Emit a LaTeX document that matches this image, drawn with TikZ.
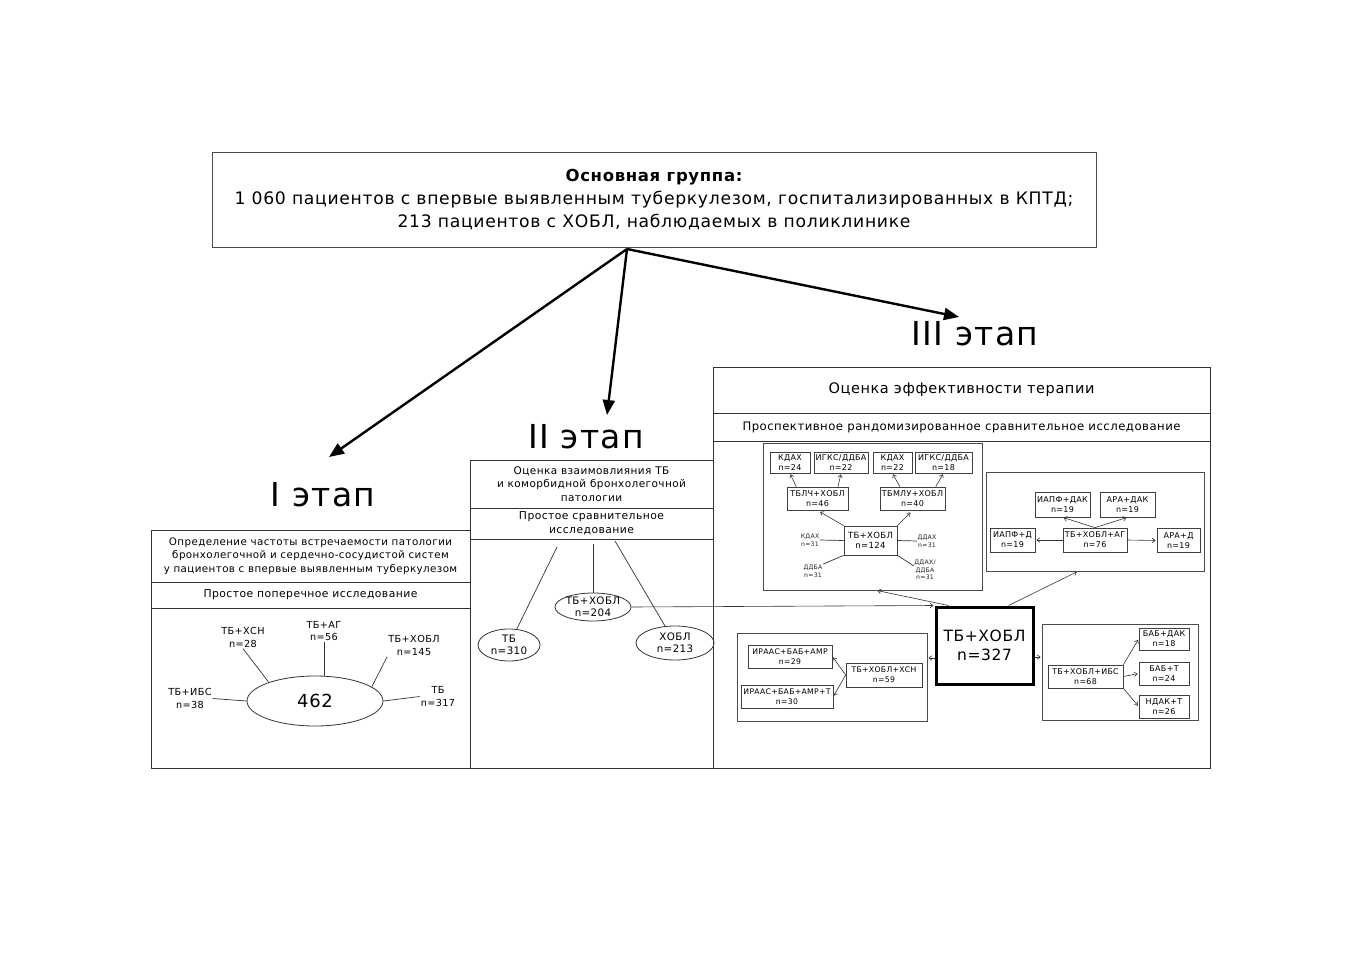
\documentclass[tikz,border=0pt]{standalone}
\usepackage{fontspec}
\setmainfont{DejaVu Sans}[LetterSpace=4]
\usetikzlibrary{arrows.meta,shapes.geometric,calc}
\newcommand\fsz[2]{\fontsize{#1}{#2}\selectfont}
\begin{document}
\begin{tikzpicture}[x=1pt,y=-1pt,
  bx/.style={draw=black!80, line width=0.8pt, rectangle, inner sep=1pt, align=center},
  sbx/.style={draw=black!75, line width=0.7pt, rectangle, inner sep=0.5pt, align=center, font=\fsz{8}{10}},
  sub/.style={draw=black!70, line width=0.8pt, rectangle, inner sep=0pt},
  lbl/.style={align=center, inner sep=1pt, font=\fsz{9.7}{12.5}},
  side/.style={align=center, inner sep=0.5pt, text=black!85, font=\fsz{6.2}{7.7}},
  ell/.style={draw=black!80, line width=0.8pt, ellipse, inner sep=0pt},
  ln/.style={draw=black!80, line width=0.7pt},
  sarr/.style={draw=black!80, line width=0.6pt, -{Straight Barb[length=3pt,width=4.5pt]}, shorten >=1pt},
  big/.style={draw=black, line width=2.4pt, -{Triangle[length=15pt,width=12pt]}},
  stage/.style={font=\fsz{33}{36}, inner sep=0pt}
]
\fill[white] (0,0) rectangle (1357,960);
\useasboundingbox (0,0) rectangle (1357,960);

% ---------- top box ----------
\node[draw=black!70, line width=1pt, minimum width=884pt, minimum height=94pt, align=center, font=\fsz{17.2}{23}] (top) at (654,200)
 {{\bfseries\fsz{16.5}{23}Основная группа:}\\1 060 пациентов с впервые выявленным туберкулезом, госпитализированных в КПТД;\\213 пациентов с ХОБЛ, наблюдаемых в поликлинике};

% ---------- stage labels ----------
\node[stage] (st1) at (323,495) {I этап};
\node[stage] (st2) at (586,437) {II этап};
\node[stage] (st3) at (975,334) {III этап};

\coordinate (src) at (627,249);
\coordinate (t1) at (329,457);
\coordinate (t2) at (607,415);
\coordinate (t3) at (959,317);
\draw[big] (src) -- (t1);
\draw[big] (src) -- (t2);
\draw[big] (src) -- (t3);

% ---------- stage I ----------
\node[bx, minimum width=319pt, minimum height=52pt, font=\fsz{10.3}{13.5}] (h1) at (310.5,556)
 {Определение частоты встречаемости патологии\\бронхолегочной и сердечно-сосудистой систем\\у пациентов с впервые выявленным туберкулезом};
\node[bx, minimum width=319pt, minimum height=26pt, font=\fsz{10.8}{13}] (m1) at (310.5,595) {Простое поперечное исследование};
\node[bx, minimum width=319pt, minimum height=160pt] (body1) at (310.5,688) {};

\node[ell, minimum width=136pt, minimum height=50pt, font=\fsz{18}{20}] (e462) at (315,701) {462};
\node[lbl] (l1) at (243,637.5) {ТБ+ХСН\\n=28};
\node[lbl] (l2) at (324,631) {ТБ+АГ\\n=56};
\node[lbl] (l3) at (414,645.5) {ТБ+ХОБЛ\\n=145};
\node[lbl] (l4) at (438,696.5) {ТБ\\n=317};
\node[lbl] (l5) at (190,698.5) {ТБ+ИБС\\n=38};
\draw[ln] (l1.south) -- (e462.158);
\draw[ln] (l2.south) -- (l2.south |- e462.north);
\draw[ln] (l3.south west) -- (e462.14);
\draw[ln] (e462.east) -- (l4.west);
\draw[ln] (l5.east) -- (e462.west);

% ---------- stage II ----------
\node[bx, minimum width=243pt, minimum height=48pt, font=\fsz{10.5}{13.5}] (h2) at (591.5,484)
 {Оценка взаимовлияния ТБ\\и коморбидной бронхолегочной\\патологии};
\node[bx, minimum width=243pt, minimum height=31pt, font=\fsz{10.8}{14}] (m2) at (591.5,523.5) {Простое сравнительное\\исследование};
\node[bx, minimum width=243pt, minimum height=229pt] (body2) at (591.5,653.5) {};

\node[ell, minimum width=62pt, minimum height=32pt] (eTB) at (509,645) {};
\node[ell, minimum width=76pt, minimum height=28pt] (eTBX) at (593,607) {};
\node[ell, minimum width=78pt, minimum height=34pt] (eX) at (675,643) {};
\node[lbl, font=\fsz{10.3}{12}] (eTBt) at (eTB) {ТБ\\n=310};
\node[lbl, font=\fsz{10.3}{12}] (eTBXt) at (eTBX) {ТБ+ХОБЛ\\n=204};
\node[lbl, font=\fsz{10.3}{12}] (eXt) at (eX) {ХОБЛ\\n=213};
\coordinate (s2a) at (557,547);
\coordinate (s2b) at (593,544);
\coordinate (s2c) at (615,541);
\draw[ln] (s2a) -- (eTB);
\draw[ln] (s2b) -- (eTBX);
\draw[ln] (s2c) -- (eX);

% ---------- stage III ----------
\node[bx, minimum width=497pt, minimum height=46pt, font=\fsz{14.5}{17}] (h3) at (961.5,390) {Оценка эффективности терапии};
\node[bx, minimum width=497pt, minimum height=28pt, font=\fsz{11.7}{14}] (m3) at (961.5,427) {Проспективное рандомизированное сравнительное исследование};
\node[bx, minimum width=497pt, minimum height=327pt] (body3) at (961.5,604.5) {};

\node[sub, minimum width=219pt, minimum height=147pt] (bA) at (872.5,516.5) {};
\node[sub, minimum width=218pt, minimum height=99pt] (bB) at (1095,521.5) {};
\node[sub, minimum width=190pt, minimum height=88pt] (bC) at (832,677) {};
\node[sub, minimum width=156pt, minimum height=96pt] (bD) at (1120,672) {};

\node[draw=black, line width=3pt, rectangle, minimum width=97pt, minimum height=77pt, align=center, font=\fsz{15.5}{19}] (c327) at (984.5,645.5) {ТБ+ХОБЛ\\n=327};

% sub-box A
\node[sbx, minimum width=40pt, minimum height=21pt] (a1) at (790,462.5) {КДАХ\\n=24};
\node[sbx, minimum width=54pt, minimum height=21pt] (a2) at (841,462.5) {ИГКС/ДДБА\\n=22};
\node[sbx, minimum width=39pt, minimum height=21pt] (a3) at (892.5,462.5) {КДАХ\\n=22};
\node[sbx, minimum width=57pt, minimum height=21pt] (a4) at (943.5,462.5) {ИГКС/ДДБА\\n=18};
\node[sbx, minimum width=61pt, minimum height=23pt] (a5) at (817.5,498.5) {ТБЛЧ+ХОБЛ\\n=46};
\node[sbx, minimum width=65pt, minimum height=23pt] (a6) at (912.5,498.5) {ТБМЛУ+ХОБЛ\\n=40};
\node[sbx, minimum width=53pt, minimum height=29pt, font=\fsz{8.5}{10.5}] (a7) at (870.5,540.5) {ТБ+ХОБЛ\\n=124};
\draw[sarr, shorten >=3pt] (a7.north west) -- (a5.south);
\draw[sarr, shorten >=3pt] (a7.north east) -- (a6.south);
\draw[sarr] (a5.151) -- (a1.south);
\draw[sarr] (a5.30) -- (a2.south);
\draw[sarr] (a6.137) -- (a3.south);
\draw[sarr] (a6.27) -- (a4.south);
\node[side] (sl1) at (810,540) {КДАХ\\n=31};
\node[side] (sl2) at (927,541) {ДДАХ\\n=31};
\node[side] (sl3) at (813,571) {ДДБА\\n=31};
\node[side] (sl4) at (925,570) {ДДАХ/\\ДДБА\\n=31};
\draw[ln] (sl1.east) -- (a7.west);
\draw[ln] (a7.east) -- (sl2.west);
\draw[ln] (sl3.north east) -- (a7.south west);
\draw[ln] (a7.south east) -- (sl4.160);

% sub-box B
\node[sbx, minimum width=55pt, minimum height=25pt] (p1) at (1062.5,504.5) {ИАПФ+ДАК\\n=19};
\node[sbx, minimum width=55pt, minimum height=25pt] (p2) at (1127.5,504.5) {АРА+ДАК\\n=19};
\node[sbx, minimum width=45pt, minimum height=24pt] (p3) at (1012.5,540) {ИАПФ+Д\\n=19};
\node[sbx, minimum width=64pt, minimum height=24pt] (p4) at (1095,540) {ТБ+ХОБЛ+АГ\\n=76};
\node[sbx, minimum width=43pt, minimum height=24pt] (p5) at (1178.5,540.5) {АРА+Д\\n=19};
\draw[sarr] (p4.north) -- (p1.south);
\draw[sarr] (p4.north) -- (p2.south);
\draw[sarr] (p4.west) -- (p3.east);
\draw[sarr] (p4.east) -- (p5.west);

% sub-box C
\node[sbx, minimum width=84pt, minimum height=23pt, font=\fsz{7.7}{10}] (q1) at (790,656.5) {ИРААС+БАБ+АМР\\n=29};
\node[sbx, minimum width=92pt, minimum height=23pt, font=\fsz{7.7}{10}] (q2) at (787,696.5) {ИРААС+БАБ+АМР+Т\\n=30};
\node[sbx, minimum width=76pt, minimum height=24pt, font=\fsz{7.7}{10}] (q3) at (884,675) {ТБ+ХОБЛ+ХСН\\n=59};
\draw[sarr] (q3.west) -- (q1.east);
\draw[sarr] (q3.west) -- (q2.east);

% sub-box D
\node[sbx, minimum width=75pt, minimum height=23pt, font=\fsz{7.9}{10}] (r1) at (1085.5,676.5) {ТБ+ХОБЛ+ИБС\\n=68};
\node[sbx, minimum width=50pt, minimum height=22pt] (r2) at (1164,639) {БАБ+ДАК\\n=18};
\node[sbx, minimum width=50pt, minimum height=23pt] (r3) at (1164,673.5) {БАБ+Т\\n=24};
\node[sbx, minimum width=50pt, minimum height=23pt] (r4) at (1164,706.5) {НДАК+Т\\n=26};
\draw[sarr] (r1.north east) -- (r2.west);
\draw[sarr] (r1.east) -- (r3.west);
\draw[sarr] (r1.south east) -- (r4.west);

% arrows from centre box
\draw[sarr] (c327.132) -- (bA.273);
\draw[sarr] (c327.59) -- (bB.251);
\draw[sarr] (c327.194) -- (c327.194 -| bC.east);
\draw[sarr] (c327.347) -- (c327.347 -| bD.west);
\draw[sarr] (eTBX.east) -- (c327.north west);
\end{tikzpicture}
\end{document}
